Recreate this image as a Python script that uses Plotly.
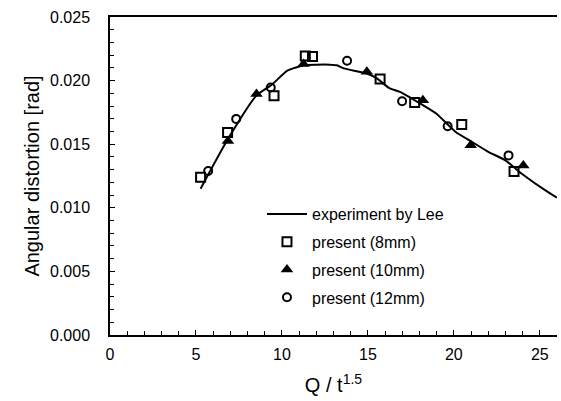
import plotly.graph_objects as go

# Experiment by Lee (curve)
lee_x = [5.27, 6.9, 8.5, 9.39, 10.34, 11.3, 12.0, 12.8, 13.2, 13.6, 14.94, 15.52, 16.28, 16.86,
         18.2, 18.97, 20.11, 21.07, 22.03, 23.0, 23.95, 25.48, 26.0]
lee_y = [0.0115, 0.0155, 0.0188, 0.01965, 0.0208, 0.0212, 0.02125, 0.02125, 0.0212, 0.02096,
         0.02056, 0.02017, 0.01938, 0.01912, 0.01807, 0.01741, 0.01596, 0.01517, 0.01438,
         0.01373, 0.01268, 0.01123, 0.0108]

# present (8mm)
s8_x = [5.27, 6.84, 9.54, 11.36, 11.78, 15.71, 17.72, 20.46, 23.5]
s8_y = [0.01241, 0.01591, 0.0188, 0.02193, 0.0219, 0.02012, 0.01828, 0.01654, 0.01286]

# present (10mm)
s10_x = [6.86, 8.52, 11.26, 14.94, 18.2, 20.98, 24.04]
s10_y = [0.01525, 0.01894, 0.0213, 0.0207, 0.01846, 0.01491, 0.01333]

# present (12mm)
s12_x = [5.71, 7.34, 9.35, 13.79, 16.99, 19.64, 23.18]
s12_y = [0.01289, 0.01699, 0.01946, 0.02156, 0.01838, 0.01641, 0.01412]

FONT = "Liberation Sans, Arial, sans-serif"

fig = go.Figure()
fig.add_trace(go.Scatter(x=lee_x, y=lee_y, mode="lines", name="experiment by Lee",
                         line=dict(color="black", width=2, shape="spline", smoothing=0.6),
                         legendgroup="a"))
fig.add_trace(go.Scatter(x=s8_x, y=s8_y, mode="markers", name="present (8mm)",
                         marker=dict(symbol="square-open", size=9, color="black",
                                     line=dict(width=2, color="black")),
                         legendgroup="b"))
fig.add_trace(go.Scatter(x=s10_x, y=s10_y, mode="markers", name="present (10mm)",
                         marker=dict(symbol="triangle-up", size=11, color="black"),
                         legendgroup="c"))
fig.add_trace(go.Scatter(x=s12_x, y=s12_y, mode="markers", name="present (12mm)",
                         marker=dict(symbol="circle-open", size=8, color="black",
                                     line=dict(width=2, color="black")),
                         legendgroup="d"))

fig.update_layout(
    width=561, height=401,
    margin=dict(l=110, r=4, t=17, b=66),
    paper_bgcolor="white", plot_bgcolor="white",
    font=dict(family=FONT, color="black", size=16),
    showlegend=True,
    legend=dict(x=0.34, y=0.434, xanchor="left", yanchor="top",
                bgcolor="rgba(0,0,0,0)", font=dict(size=16, family=FONT),
                traceorder="grouped", tracegroupgap=4, itemwidth=40),
    xaxis=dict(range=[0, 26], tickvals=[0, 5, 10, 15, 20, 25], automargin=False,
               showline=True, linecolor="black", linewidth=1.5, mirror=True,
               ticks="inside", ticklen=5, tickcolor="black",
               minor=dict(dtick=1, ticks="inside", ticklen=4, tickcolor="black"),
               showgrid=False, zeroline=False,
               tickfont=dict(size=16), ticklabelstandoff=4,
               title=dict(text="Q / t<sup>1.5</sup>", font=dict(size=20), standoff=16)),
    yaxis=dict(range=[0, 0.025], tickvals=[0, 0.005, 0.01, 0.015, 0.02, 0.025],
               tickformat=".3f", automargin=False,
               showline=True, linecolor="black", linewidth=1.5,
               ticks="inside", ticklen=5, tickcolor="black",
               minor=dict(dtick=0.001, ticks="inside", ticklen=4, tickcolor="black"),
               showgrid=False, zeroline=False,
               tickfont=dict(size=16), ticklabelstandoff=15,
               title=dict(text="Angular distortion [rad]", font=dict(size=20), standoff=5)),
)

fig.write_html("out.html", config={"displayModeBar": False},
               post_script="document.body.style.margin='0';")
